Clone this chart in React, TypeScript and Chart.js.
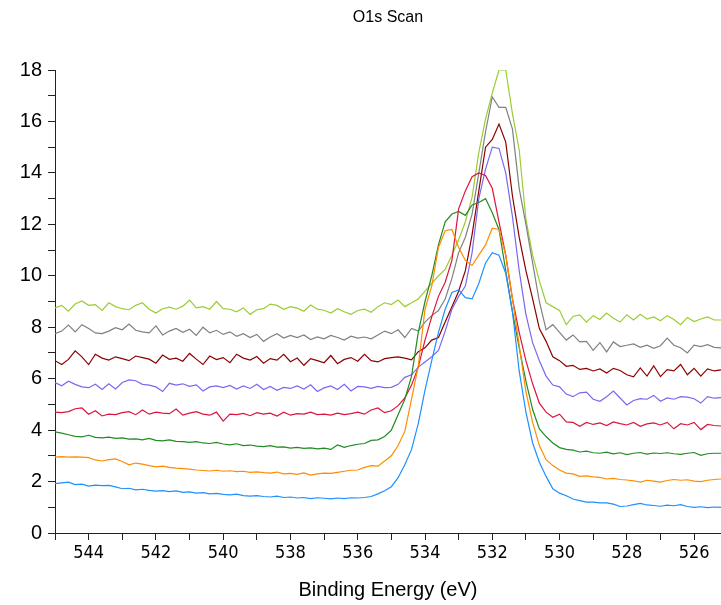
import { useEffect, useRef } from 'react';
import { Chart, registerables } from 'chart.js';

Chart.register(...registerables);

// Binding energy grid (eV), high to low
const energies = [
  545.0, 544.8, 544.6, 544.4, 544.2, 544.0, 543.8, 543.6, 543.4, 543.2,
  543.0, 542.8, 542.6, 542.4, 542.2, 542.0, 541.8, 541.6, 541.4, 541.2,
  541.0, 540.8, 540.6, 540.4, 540.2, 540.0, 539.8, 539.6, 539.4, 539.2,
  539.0, 538.8, 538.6, 538.4, 538.2, 538.0, 537.8, 537.6, 537.4, 537.2,
  537.0, 536.8, 536.6, 536.4, 536.2, 536.0, 535.8, 535.6, 535.4, 535.2,
  535.0, 534.8, 534.6, 534.4, 534.2, 534.0, 533.8, 533.6, 533.4, 533.2,
  533.0, 532.8, 532.6, 532.4, 532.2, 532.0, 531.8, 531.6, 531.4, 531.2,
  531.0, 530.8, 530.6, 530.4, 530.2, 530.0, 529.8, 529.6, 529.4, 529.2,
  529.0, 528.8, 528.6, 528.4, 528.2, 528.0, 527.8, 527.6, 527.4, 527.2,
  527.0, 526.8, 526.6, 526.4, 526.2, 526.0, 525.8, 525.6, 525.4, 525.2,
];

// Intensity traces (offset), bottom to top
const scanBlue = [
  1.92, 1.95, 1.98, 1.88, 1.90, 1.82, 1.86, 1.84, 1.85, 1.79,
  1.72, 1.74, 1.68, 1.70, 1.66, 1.63, 1.65, 1.61, 1.64, 1.58,
  1.60, 1.55, 1.57, 1.52, 1.54, 1.50, 1.48, 1.51, 1.45, 1.43,
  1.45, 1.42, 1.40, 1.43, 1.38, 1.40, 1.36, 1.38, 1.34, 1.37,
  1.35, 1.33, 1.36, 1.34, 1.37, 1.36, 1.38, 1.42, 1.52, 1.64,
  1.80, 2.15, 2.65, 3.25, 4.25, 5.55, 6.70, 7.80, 8.70, 9.35,
  9.45, 9.15, 9.10, 9.70, 10.50, 10.90, 10.80, 10.10, 8.60, 6.30,
  4.70, 3.50, 2.75, 2.20, 1.72, 1.55, 1.45, 1.32, 1.26, 1.20,
  1.20, 1.17, 1.17, 1.12, 1.03, 1.05, 1.10, 1.15, 1.09, 1.07,
  1.04, 1.08, 1.06, 1.10, 1.03, 1.00, 1.02, 0.99, 1.01, 1.00,
];

const scanOrange = [
  2.95, 2.97, 2.95, 2.96, 2.95, 2.93, 2.84, 2.80, 2.85, 2.88,
  2.78, 2.65, 2.72, 2.68, 2.62, 2.57, 2.60, 2.55, 2.52, 2.50,
  2.48, 2.45, 2.43, 2.41, 2.44, 2.40, 2.42, 2.39, 2.40, 2.36,
  2.38, 2.35, 2.33, 2.37, 2.30, 2.32, 2.28, 2.34, 2.25, 2.30,
  2.33, 2.32, 2.36, 2.40, 2.44, 2.45, 2.55, 2.62, 2.60, 2.80,
  3.00, 3.40, 3.95, 5.20, 6.50, 8.70, 9.60, 11.10, 11.75, 11.80,
  11.10, 10.60, 10.40, 10.80, 11.20, 11.85, 11.80, 10.80, 9.10, 7.30,
  5.50, 4.30, 3.40, 2.85, 2.62, 2.45, 2.33, 2.30, 2.20, 2.22,
  2.18, 2.16, 2.10, 2.12, 2.08, 2.06, 2.03, 1.98, 2.05, 2.02,
  1.98, 2.04, 2.08, 2.05, 2.07, 2.02, 2.00, 2.05, 2.08, 2.10,
];

const scanGreen = [
  3.93, 3.88, 3.82, 3.76, 3.74, 3.80, 3.72, 3.70, 3.73, 3.68,
  3.70, 3.65, 3.66, 3.62, 3.68, 3.60, 3.58, 3.62, 3.56, 3.55,
  3.52, 3.55, 3.50, 3.48, 3.52, 3.46, 3.43, 3.47, 3.40, 3.42,
  3.38, 3.36, 3.40, 3.34, 3.35, 3.30, 3.33, 3.29, 3.31, 3.27,
  3.30, 3.25, 3.42, 3.33, 3.40, 3.45, 3.48, 3.60, 3.62, 3.75,
  4.00, 4.60, 5.20, 6.10, 7.80, 9.00, 10.00, 11.20, 12.10, 12.40,
  12.50, 12.35, 12.75, 12.85, 13.00, 12.45, 11.80, 10.20, 8.60, 7.20,
  5.90, 4.80, 4.05, 3.75, 3.50, 3.32, 3.25, 3.22, 3.15, 3.18,
  3.12, 3.10, 3.14, 3.08, 3.12, 3.05, 3.10, 3.13, 3.07, 3.11,
  3.09, 3.12, 3.08, 3.06, 3.10, 3.13, 3.02, 3.08, 3.10, 3.10,
];

const scanRed = [
  4.70, 4.68, 4.72, 4.83, 4.86, 4.62, 4.75, 4.55, 4.62, 4.60,
  4.68, 4.72, 4.60, 4.78, 4.62, 4.70, 4.66, 4.64, 4.82, 4.58,
  4.66, 4.72, 4.62, 4.58, 4.70, 4.35, 4.62, 4.60, 4.65, 4.56,
  4.68, 4.62, 4.66, 4.55, 4.70, 4.58, 4.64, 4.62, 4.70, 4.60,
  4.62, 4.58, 4.66, 4.60, 4.64, 4.70, 4.62, 4.78, 4.86, 4.68,
  4.75, 4.95, 5.25, 5.75, 6.45, 7.50, 8.40, 9.20, 9.75, 10.60,
  12.60, 13.30, 13.85, 14.00, 13.90, 13.40, 12.10, 10.80, 9.10, 7.80,
  6.70, 5.80, 5.05, 4.70, 4.50, 4.62, 4.32, 4.30, 4.15, 4.30,
  4.22, 4.28, 4.18, 4.32, 4.25, 4.20, 4.30, 4.15, 4.24, 4.28,
  4.20, 4.30, 4.05, 4.25, 4.20, 4.30, 4.02, 4.22, 4.18, 4.16,
];

const scanPurple = [
  5.85, 5.72, 5.90, 5.78, 5.68, 5.65, 5.78, 5.58, 5.80, 5.60,
  5.85, 5.95, 5.92, 5.78, 5.75, 5.68, 5.50, 5.82, 5.75, 5.80,
  5.70, 5.76, 5.52, 5.68, 5.72, 5.65, 5.74, 5.60, 5.72, 5.62,
  5.78, 5.58, 5.70, 5.55, 5.66, 5.62, 5.72, 5.60, 5.76, 5.50,
  5.64, 5.72, 5.58, 5.78, 5.52, 5.70, 5.68, 5.62, 5.70, 5.65,
  5.66, 5.78, 6.05, 6.15, 6.45, 6.65, 6.85, 7.10, 7.85, 8.70,
  9.20, 9.60, 10.90, 13.00, 14.15, 15.00, 14.95, 14.00, 12.30, 10.20,
  8.50, 7.40, 6.70, 6.10, 5.75, 5.68, 5.40, 5.30, 5.45, 5.48,
  5.20, 5.12, 5.30, 5.52, 5.25, 4.98, 5.15, 5.22, 5.20, 5.35,
  5.12, 5.25, 5.20, 5.30, 5.28, 5.22, 5.05, 5.30, 5.24, 5.26,
];

const scanMaroon = [
  6.70, 6.55, 6.75, 7.08, 6.85, 6.55, 6.95, 6.80, 6.72, 6.85,
  6.78, 6.70, 6.88, 6.82, 6.76, 6.60, 6.92, 6.75, 6.80, 6.68,
  6.98, 6.76, 6.55, 6.88, 6.74, 6.82, 6.62, 6.95, 6.80, 6.72,
  6.86, 6.60, 6.78, 6.72, 6.95, 6.66, 6.80, 6.52, 6.78, 6.70,
  6.62, 6.90, 6.58, 6.75, 6.82, 6.68, 6.95, 6.70, 6.65, 6.78,
  6.82, 6.85, 6.80, 6.73, 7.05, 7.20, 7.50, 7.60, 8.20, 8.80,
  9.40, 10.20, 11.60, 13.30, 15.00, 15.30, 15.90, 15.20, 13.10, 11.50,
  10.20, 9.10, 7.95, 7.45, 6.85, 6.70, 6.48, 6.52, 6.36, 6.40,
  6.30, 6.38, 6.22, 6.40, 6.32, 6.15, 6.07, 6.42, 6.10, 6.50,
  6.08, 6.35, 6.30, 6.55, 6.15, 6.40, 6.10, 6.38, 6.30, 6.34,
];

const scanGray = [
  7.75, 7.85, 8.08, 7.82, 8.10, 7.95, 7.78, 7.75, 7.85, 7.98,
  7.90, 8.12, 7.88, 7.82, 7.78, 8.05, 7.70, 7.85, 7.95, 7.80,
  7.92, 7.68, 8.00, 7.78, 7.88, 7.72, 7.82, 7.65, 7.75, 7.60,
  7.72, 7.45, 7.62, 7.75, 7.58, 7.68, 7.60, 7.70, 7.52, 7.62,
  7.55, 7.68, 7.60, 7.50, 7.65, 7.58, 7.62, 7.55, 7.70, 7.85,
  7.75, 7.90, 7.60, 7.95, 7.85, 8.20, 8.45, 8.65, 9.10, 9.90,
  10.90, 11.50, 12.40, 14.00, 15.60, 16.95, 16.55, 16.55, 15.70, 13.40,
  12.00, 10.50, 9.00, 7.90, 8.10, 7.80, 7.50, 7.70, 7.43, 7.45,
  7.10, 7.40, 7.04, 7.43, 7.25, 7.30, 7.35, 7.22, 7.30, 7.18,
  7.28, 7.58, 7.30, 7.20, 7.00, 7.30, 7.25, 7.32, 7.22, 7.20,
];

const scanLime = [
  8.75, 8.85, 8.62, 8.90, 9.02, 8.85, 8.88, 8.65, 8.95, 8.80,
  8.72, 8.68, 8.85, 8.95, 8.70, 8.55, 8.72, 8.78, 8.70, 8.82,
  9.05, 8.75, 8.80, 8.70, 9.00, 8.72, 8.70, 8.60, 8.75, 8.50,
  8.68, 8.72, 8.90, 8.85, 8.70, 8.80, 8.74, 8.62, 8.86, 8.70,
  8.66, 8.55, 8.72, 8.60, 8.50, 8.65, 8.70, 8.58, 8.80, 8.95,
  8.88, 9.06, 8.80, 8.95, 9.10, 9.40, 9.70, 10.00, 10.25, 10.80,
  11.40, 12.10, 13.06, 14.80, 16.10, 17.10, 18.00, 18.00, 16.30, 14.90,
  12.20, 10.80, 9.80, 8.95, 8.80, 8.65, 8.10, 8.42, 8.48, 8.20,
  8.45, 8.30, 8.55, 8.35, 8.20, 8.48, 8.28, 8.50, 8.32, 8.40,
  8.25, 8.45, 8.30, 8.10, 8.38, 8.22, 8.32, 8.40, 8.28, 8.28,
];

const traces = [
  { values: scanBlue, color: '#1e90ff' },
  { values: scanOrange, color: '#ff8c00' },
  { values: scanGreen, color: '#228b22' },
  { values: scanRed, color: '#dc143c' },
  { values: scanPurple, color: '#7b68ee' },
  { values: scanMaroon, color: '#8b0000' },
  { values: scanGray, color: '#808080' },
  { values: scanLime, color: '#9acd32' },
];

const FONT = "'Liberation Sans', Arial, Helvetica, sans-serif";
const NARROW = "'Liberation Sans Narrow', 'Arial Narrow', 'DejaVu Sans Condensed', sans-serif";

export default function App() {
  const canvasRef = useRef<HTMLCanvasElement>(null);

  useEffect(() => {
    const canvas = canvasRef.current;
    if (!canvas) return;

    const chart = new Chart(canvas, {
      type: 'line',
      data: {
        datasets: traces.map((t, i) => ({
          label: `scan ${i + 1}`,
          data: energies.map((e, k) => ({ x: e, y: t.values[k] })),
          borderColor: t.color,
          backgroundColor: t.color,
          borderWidth: 1.2,
          pointRadius: 0,
          tension: 0,
          fill: false,
        })),
      },
      options: {
        animation: false,
        responsive: false,
        devicePixelRatio: 1,
        layout: { padding: 0 },
        plugins: {
          legend: { display: false },
          tooltip: { enabled: false },
          title: {
            display: true,
            text: 'O1s Scan',
            fullSize: false,
            color: '#000',
            font: { family: FONT, size: 16, weight: 'normal' },
            padding: { top: 8, bottom: 42.8 },
          },
        },
        scales: {
          x: {
            type: 'linear',
            reverse: true,
            min: 525.2,
            max: 545,
            afterFit: (scale: any) => {
              scale.height = 72;
            },
            border: { display: true, color: '#222', width: 1 },
            grid: {
              display: true,
              drawOnChartArea: false,
              drawTicks: true,
              tickLength: 7,
              tickColor: '#222',
            },
            ticks: {
              stepSize: 1,
              includeBounds: false,
              autoSkip: false,
              maxRotation: 0,
              padding: 3,
              color: '#000',
              font: { family: NARROW, size: 18 },
              callback: (v: any) => (Number(v) % 2 === 0 ? String(v) : ''),
            },
            title: {
              display: true,
              text: 'Binding Energy (eV)',
              color: '#000',
              font: { family: FONT, size: 20 },
              padding: { top: 4, bottom: 3 },
            },
          },
          y: {
            type: 'linear',
            min: 0,
            max: 18,
            afterFit: (scale: any) => {
              scale.width = 55;
            },
            border: { display: true, color: '#222', width: 1 },
            grid: {
              display: true,
              drawOnChartArea: false,
              drawTicks: true,
              tickLength: 7,
              tickColor: '#222',
            },
            ticks: {
              stepSize: 1,
              autoSkip: false,
              padding: 6,
              color: '#000',
              font: { family: FONT, size: 20 },
              callback: (v: any) => (Number(v) % 2 === 0 ? String(v) : ''),
            },
          },
        },
      },
    });

    return () => chart.destroy();
  }, []);

  return (
    <div style={{ position: 'absolute', left: 0, top: 0, width: 721, height: 605, background: '#fff' }}>
      <canvas ref={canvasRef} width={721} height={605} style={{ display: 'block', width: 721, height: 605 }} />
    </div>
  );
}
